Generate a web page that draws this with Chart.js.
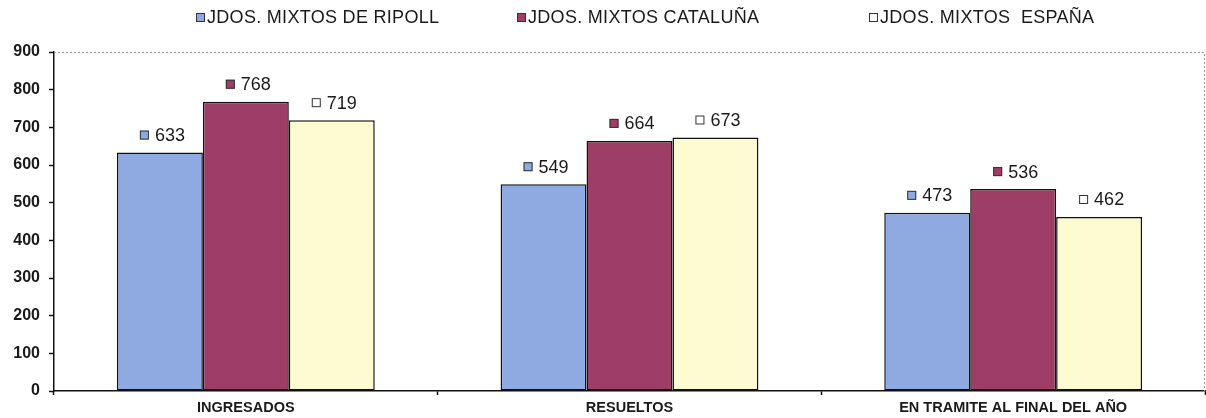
<!DOCTYPE html>
<html>
<head>
<meta charset="utf-8">
<script src="https://cdn.jsdelivr.net/npm/chart.js@4/dist/chart.umd.min.js"></script>
<style>
  html, body { margin: 0; padding: 0; background: #fff; }
  #wrap { width: 1206px; height: 418px; }
</style>
</head>
<body>
<div id="wrap"><canvas id="juzgadosChart"></canvas></div>
<script>
// Datos del gráfico
const categorias = ["INGRESADOS", "RESUELTOS", "EN TRAMITE AL FINAL DEL AÑO"];
const series = ["JDOS. MIXTOS DE RIPOLL", "JDOS. MIXTOS CATALUÑA", "JDOS. MIXTOS  ESPAÑA"];
const ripoll = [633, 549, 473];
const cataluna = [768, 664, 536];
const espana = [719, 673, 462];
const ticksY = [0, 100, 200, 300, 400, 500, 600, 700, 800, 900];

const colores = ["#8eaae0", "#9e3d66", "#fdfbd2"];
const marcadores = ["#8eaae0", "#9e3d66", "#ffffff"];
const texto = "#1a1a1a";

// Leyenda dibujada a mano en la parte superior
const leyendaPlugin = {
    id: "leyenda",
    afterDraw(chart) {
        const ctx = chart.ctx;
        const posX = [196, 517, 869];
        ctx.save();
        ctx.font = "18px 'Liberation Sans', Arial, sans-serif";
        ctx.letterSpacing = "0.3px";
        ctx.textBaseline = "middle";
        series.forEach((nombre, i) => {
            ctx.fillStyle = marcadores[i];
            ctx.fillRect(posX[i], 13, 9, 9);
            ctx.strokeStyle = "#333";
            ctx.lineWidth = 1;
            ctx.strokeRect(posX[i] + 0.5, 13.5, 8, 8);
            ctx.fillStyle = texto;
            ctx.fillText(nombre, posX[i] + 11, 18);
        });
        ctx.restore();
    }
};

// Etiquetas de valor con su marcador encima de cada barra
const etiquetasPlugin = {
    id: "etiquetas",
    afterDatasetsDraw(chart) {
        const ctx = chart.ctx;
        ctx.save();
        ctx.font = "18px 'Liberation Sans', Arial, sans-serif";
        ctx.textBaseline = "middle";
        ctx.textAlign = "left";
        chart.data.datasets.forEach((ds, i) => {
            const meta = chart.getDatasetMeta(i);
            meta.data.forEach((bar, j) => {
                const y = bar.y - 17.5;
                ctx.fillStyle = marcadores[i];
                ctx.fillRect(bar.x - 20, y - 4.5, 9, 9);
                ctx.strokeStyle = "#333";
                ctx.lineWidth = 1;
                ctx.strokeRect(bar.x - 19.5, y - 4, 8, 8);
                ctx.fillStyle = texto;
                ctx.fillText(ds.data[j], bar.x - 5, y + 1);
            });
        });
        ctx.restore();
    }
};

// Borde punteado del área de trazado (arriba y derecha)
const bordePlugin = {
    id: "borde",
    beforeDatasetsDraw(chart) {
        const { ctx, chartArea: a } = chart;
        ctx.save();
        ctx.strokeStyle = "#9a9a9a";
        ctx.lineWidth = 1;
        ctx.setLineDash([2, 2]);
        ctx.beginPath();
        ctx.moveTo(a.left, a.top + 0.5);
        ctx.lineTo(a.right - 0.5, a.top + 0.5);
        ctx.lineTo(a.right - 0.5, a.bottom);
        ctx.stroke();
        ctx.restore();
    }
};

const ctx = document.getElementById("juzgadosChart").getContext("2d");
const juzgadosChart = new Chart(ctx, {
    type: "bar",
    data: {
        labels: categorias,
        datasets: [ripoll, cataluna, espana].map((valores, i) => ({
            label: series[i],
            data: valores,
            backgroundColor: colores[i],
            borderColor: "#111",
            borderWidth: 1.5,
            borderSkipped: false,
            barPercentage: 1,
            categoryPercentage: 0.672
        }))
    },
    options: {
        responsive: true,
        maintainAspectRatio: false,
        animation: false,
        layout: { padding: { top: 52, right: 1, left: 0, bottom: 0 } },
        plugins: {
            legend: { display: false },
            tooltip: { enabled: false }
        },
        scales: {
            x: {
                afterFit(scale) { scale.height = 27; },
                grid: {
                    offset: true,
                    drawOnChartArea: false,
                    drawTicks: true,
                    tickLength: 4,
                    tickColor: "#111",
                    tickWidth: 1.5
                },
                border: { display: true, color: "#111", width: 1.5 },
                ticks: {
                    color: texto,
                    padding: 4,
                    font: { family: "'Liberation Sans', Arial, sans-serif", size: 14.5, weight: "bold" }
                }
            },
            y: {
                min: 0,
                max: 900,
                afterFit(scale) { scale.width = 54; },
                afterBuildTicks(scale) { scale.ticks = ticksY.map(v => ({ value: v })); },
                grid: {
                    drawOnChartArea: false,
                    drawTicks: true,
                    tickLength: 5,
                    tickColor: "#111",
                    tickWidth: 1.5
                },
                border: { display: true, color: "#111", width: 1.5 },
                ticks: {
                    color: texto,
                    padding: 9,
                    font: { family: "'Liberation Sans', Arial, sans-serif", size: 16, weight: "bold" }
                }
            }
        }
    },
    plugins: [bordePlugin, etiquetasPlugin, leyendaPlugin]
});
</script>
</body>
</html>
